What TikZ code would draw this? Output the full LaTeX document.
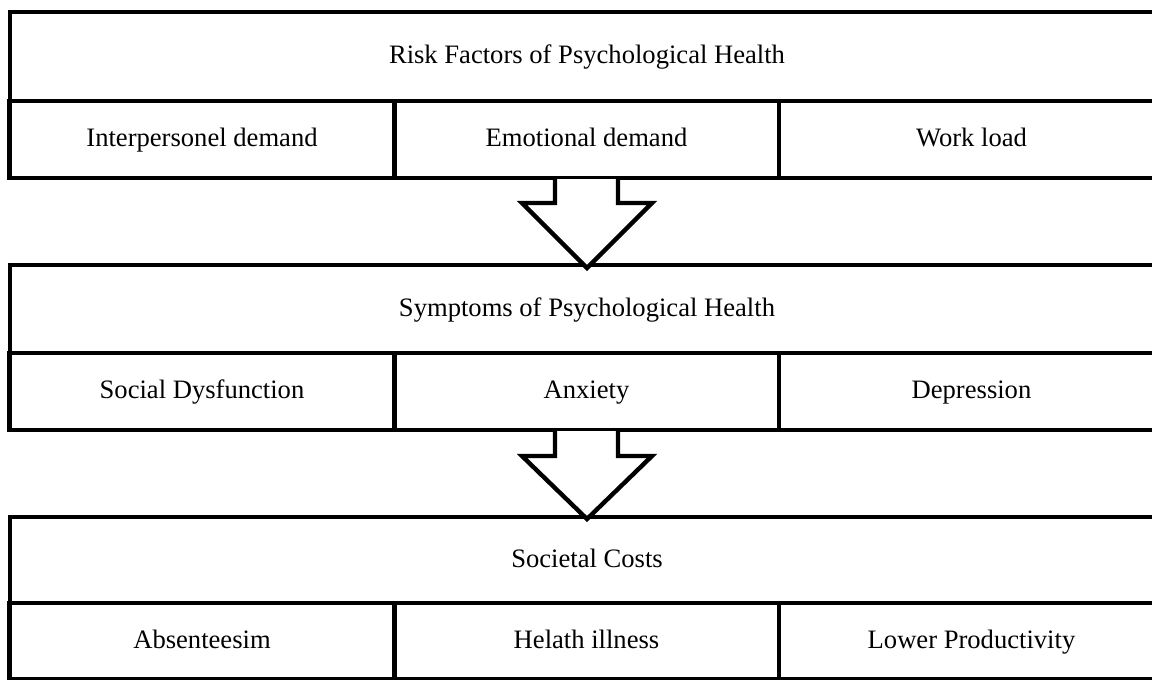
\documentclass[tikz,border=0pt]{standalone}
\usepackage{fontspec}
\setmainfont{Liberation Serif}
\usetikzlibrary{positioning}

\tikzset{
  cell/.style={draw, line width=2.2pt, inner sep=0pt, outer sep=0pt,
    minimum width=192.5pt, text height=0.85em, text depth=0.15em,
    font=\fontsize{13.3}{16}\selectfont},
  head/.style={cell, minimum width=577pt},
  blockarrow/.style={draw, fill=white, line width=2.2pt, line join=miter}
}

\begin{document}
\begin{tikzpicture}[x=0.5pt,y=-0.5pt]
  \useasboundingbox (0,0) rectangle (1152,680);
  \clip (0,0) rectangle (1152,680);
  % risk factors
  \node[head, minimum height=44.5pt] (risk) at (587,56.5) {Risk Factors of Psychological Health};
  \node[cell, minimum height=38.5pt] (inter) at (202,139.5) {Interpersonel demand};
  \node[cell, minimum height=38.5pt] (emo) at (586.5,139.5) {Emotional demand};
  \node[cell, minimum height=38.5pt] (load) at (971.5,139.5) {Work load};
  % symptoms
  \node[head, minimum height=44pt] (symp) at (587,309) {Symptoms of Psychological Health};
  \node[cell, minimum height=38.5pt] (social) at (202,391.5) {Social Dysfunction};
  \node[cell, minimum height=38.5pt] (anx) at (586.5,391.5) {Anxiety};
  \node[cell, minimum height=38.5pt] (dep) at (971.5,391.5) {Depression};
  % costs
  \node[head, minimum height=43pt] (costs) at (587,560) {Societal Costs};
  \node[cell, minimum height=38pt] (absent) at (202,641) {Absenteesim};
  \node[cell, minimum height=38pt] (ill) at (586.5,641) {Helath illness};
  \node[cell, minimum height=38pt] (prod) at (971.5,641) {Lower Productivity};
  % arrows between the blocks
  \draw[blockarrow, shift={(emo.south)}] (-31.5,1) -- (-31.5,25) -- (-64.5,25)
    -- (0.5,90) -- (65.5,25) -- (31.5,25) -- (31.5,1);
  \draw[blockarrow, shift={(anx.south)}] (-31.5,1) -- (-31.5,26) -- (-64.5,26)
    -- (0.5,89) -- (65.5,26) -- (31.5,26) -- (31.5,1);
\end{tikzpicture}
\end{document}
